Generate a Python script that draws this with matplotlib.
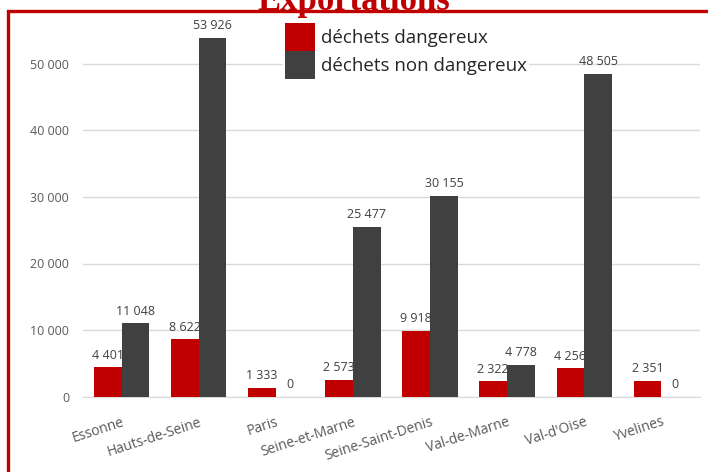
import matplotlib
matplotlib.use("Agg")
import matplotlib.pyplot as plt
import numpy as np
from matplotlib.patches import Rectangle

categories = ["Essonne", "Hauts-de-Seine", "Paris", "Seine-et-Marne",
              "Seine-Saint-Denis", "Val-de-Marne", "Val-d'Oise", "Yvelines"]
dangereux = [4401, 8622, 1333, 2573, 9918, 2322, 4256, 2351]
non_dangereux = [11048, 53926, 0, 25477, 30155, 4778, 48505, 0]
series_names = ["déchets dangereux", "déchets non dangereux"]
yticks = [0, 10000, 20000, 30000, 40000, 50000]
title = "Exportations"

RED = "#C00000"
DARK = "#404040"

plt.rcParams['font.family'] = ['Open Sans', 'DejaVu Sans']

W, H = 708, 472
fig = plt.figure(figsize=(W / 100, H / 100), dpi=100)
ax = fig.add_axes([83 / W, 1 - 396.7 / H, (700 - 83) / W, 396.7 / H])

x = np.arange(len(categories))
bw = 0.36
b1 = ax.bar(x - bw / 2, dangereux, bw, color=RED, label=series_names[0], zorder=3)
b2 = ax.bar(x + bw / 2, non_dangereux, bw, color=DARK, label=series_names[1], zorder=3)

def fmt(v):
    return f"{v:,}".replace(",", " ")

for bars, vals in ((b1, dangereux), (b2, non_dangereux)):
    ax.bar_label(bars, labels=[fmt(v) for v in vals], padding=4,
                 fontsize=9, color="#404040")

ax.set_xlim(-0.5, len(categories) - 0.5)
ax.set_ylim(0, 396.7 / 66.6 * 10000)
ax.set_yticks(yticks)
ax.set_yticklabels([fmt(v) for v in yticks], fontsize=9, color="#595959")
ax.yaxis.grid(True, color="#D9D9D9", linewidth=1, zorder=0)
ax.set_axisbelow(True)
ax.tick_params(axis='y', length=0, pad=10)
ax.tick_params(axis='x', length=0, pad=13)
ax.set_xticks(x)
ax.set_xticklabels(categories, rotation=18, ha='right', rotation_mode='anchor',
                   fontsize=10, color="#595959")
for s in ("top", "right", "left"):
    ax.spines[s].set_visible(False)
ax.spines["bottom"].set_color("#D9D9D9")

leg = ax.legend(loc='upper left', bbox_to_anchor=((283 - 83) / (700 - 83), 1 - 21 / 396.7),
                frameon=True, fontsize=13.5, handlelength=1.6, handleheight=1.92,
                labelspacing=0.0, handletextpad=0.35, borderpad=0.1, borderaxespad=0)
leg.get_frame().set_facecolor("white")
leg.get_frame().set_edgecolor("none")
leg.get_frame().set_alpha(1)
for t in leg.get_texts():
    t.set_color("#262626")

# red border frame
fig.patches.append(Rectangle((8 / W, -0.1), 1.2, 1.1 - 11 / H,
                             transform=fig.transFigure, fill=False,
                             edgecolor=RED, linewidth=2.4, zorder=10))
fig.text(0.5, 1 - 9.5 / H, title, ha='center', va='baseline',
         fontsize=25, fontweight='bold', color=RED,
         family=['Liberation Serif', 'DejaVu Serif'], zorder=11)

fig.savefig("out.png", dpi=100)
